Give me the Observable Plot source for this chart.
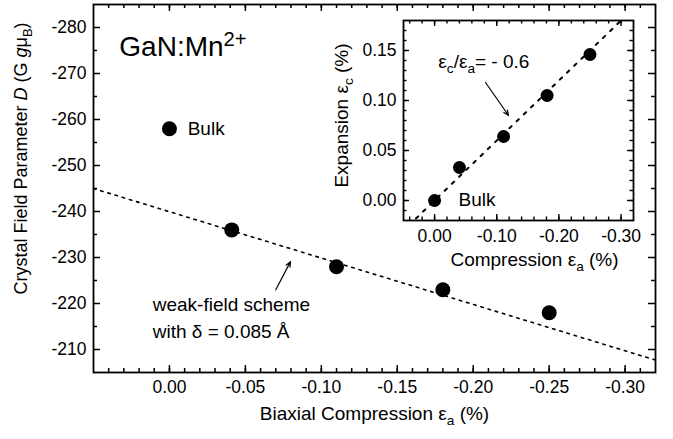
<!DOCTYPE html>
<html><head><meta charset="utf-8">
<script src="https://cdn.jsdelivr.net/npm/d3@7"></script>
<script src="https://cdn.jsdelivr.net/npm/@observablehq/plot@0.6"></script>
<style>
body{margin:0;background:#fff;}
#wrap{position:relative;width:673px;height:439px;background:#fff;}
</style></head><body><div id="wrap"></div>
<script>
const FONT = '"Liberation Sans", Arial, Helvetica, sans-serif';

// ---------- Main panel data ----------
const mainBulkX = [0.0];
const mainBulkY = [-258];
const mainX = [-0.041, -0.110, -0.180, -0.250];
const mainY = [-236, -228, -223, -218];
const mainLineX = [0.05, -0.32];
const mainLineY = [-245.0, -207.7];
const mainXTicks = [0, -0.05, -0.10, -0.15, -0.20, -0.25, -0.30];
const mainXMinor = d3.range(4, -32, -1).map(i => i / 100);
const mainYTicks = [-280, -270, -260, -250, -240, -230, -220, -210];
const mainYMinor = [-275, -265, -255, -245, -235, -225, -215];
const mainArrowX = [-0.070, -0.0797];
const mainArrowY = [-223.0, -229.1];
const mainNotes = ["GaN:Mn2+", "Bulk", "weak-field scheme", "with δ = 0.085 Å"];
const mainNoteX = [0.033, -0.012, 0.011, 0.011];
const mainNoteY = [-275.7, -258, -219.6, -213.9];
const mainNoteSize = [28, 19, 19, 19];
const mainXLabel = "Biaxial Compression εa (%)";
const mainYLabel = "Crystal Field Parameter D (G gμB)";

// ---------- Inset data ----------
const inX = [0.0, -0.040, -0.111, -0.181, -0.250];
const inY = [0.0, 0.033, 0.064, 0.105, 0.146];
const inLineX = [0.03, -0.30];
const inLineY = [-0.018, 0.18];
const inXTicks = [0, -0.10, -0.20, -0.30];
const inXMinor = d3.range(4, -32, -2).map(i => i / 100);
const inYTicks = [0, 0.05, 0.10, 0.15];
const inYMinor = d3.range(-1, 18, 1).map(i => i / 100);
const inArrowX = [-0.082, -0.119];
const inArrowY = [0.118, 0.085];
const inNotes = ["εc/εa= - 0.6", "Bulk"];
const inNoteX = [-0.006, -0.0386];
const inNoteY = [0.139, 0.001];
const inXLabel = "Compression εa (%)";
const inYLabel = "Expansion εc (%)";

function frameTicks(xs, xm, ys, ym, pw, ph, LM, Lm, sw) {
  return [
    Plot.ruleX(xs, {insetTop: ph - LM, strokeWidth: sw}),
    Plot.ruleX(xs, {insetBottom: ph - LM, strokeWidth: sw}),
    Plot.ruleX(xm, {insetTop: ph - Lm, strokeWidth: sw}),
    Plot.ruleX(xm, {insetBottom: ph - Lm, strokeWidth: sw}),
    Plot.ruleY(ys, {insetRight: pw - LM, strokeWidth: sw}),
    Plot.ruleY(ys, {insetLeft: pw - LM, strokeWidth: sw}),
    Plot.ruleY(ym, {insetRight: pw - Lm, strokeWidth: sw}),
    Plot.ruleY(ym, {insetLeft: pw - Lm, strokeWidth: sw})
  ];
}

function rich(svg, plain, parts, fs) {
  d3.select(svg).selectAll("text").filter(function() { return this.textContent === plain; }).each(function() {
    const t = d3.select(this);
    t.text(null);
    let shift = 0;
    for (const [str, kind] of parts) {
      const target = kind === "sub" ? 0.28 * fs : kind === "sup" ? -0.36 * fs : 0;
      const ts = t.append("tspan").text(str).attr("dy", (target - shift) + "px");
      shift = target;
      if (kind === "sub" || kind === "sup") ts.attr("font-size", (0.72 * fs) + "px");
      if (kind === "i") ts.attr("font-style", "italic");
    }
  });
}

// ---------- Main plot ----------
const W = 673, H = 439, mL = 93, mR = 18, mT = 4, mB = 67;
const pw = W - mL - mR, ph = H - mT - mB;
const mainArrow = [{x1: mainArrowX[0], y1: mainArrowY[0], x2: mainArrowX[1], y2: mainArrowY[1]}];
const mainNoteRows = mainNotes.map((t, i) => ({t, x: mainNoteX[i], y: mainNoteY[i], s: mainNoteSize[i]}));

const main = Plot.plot({
  width: W, height: H, marginLeft: mL, marginRight: mR, marginTop: mT, marginBottom: mB,
  style: {fontFamily: FONT, fontSize: "17.5px", background: "transparent", color: "black", overflow: "visible"},
  x: {domain: [0.05, -0.32]},
  y: {domain: [-205, -285]},
  marks: [
    ...frameTicks(mainXTicks, mainXMinor, mainYTicks, mainYMinor, pw, ph, 7, 4, 1.5),
    Plot.frame({strokeWidth: 1.8}),
    Plot.axisX(mainXTicks, {tickSize: 0, tickPadding: 8, tickFormat: d => d.toFixed(2), fontSize: 17.5, label: null}),
    Plot.axisY(mainYTicks, {tickSize: 0, tickPadding: 7, tickFormat: d => String(d), fontSize: 17.5, label: null}),
    Plot.line(mainLineX, {x: mainLineX, y: mainLineY, strokeDasharray: "2.5,5", strokeWidth: 1.6}),
    Plot.dot(mainBulkX, {x: mainBulkX, y: mainBulkY, r: 7.5, fill: "black"}),
    Plot.dot(mainX, {x: mainX, y: mainY, r: 7.5, fill: "black"}),
    Plot.arrow(mainArrow, {x1: "x1", y1: "y1", x2: "x2", y2: "y2", strokeWidth: 1.2, headLength: 7, headAngle: 45}),
    Plot.text(mainNoteRows, {x: "x", y: "y", text: "t", fontSize: "s", textAnchor: "start"}),
    Plot.text([mainXLabel], {text: d => d, frameAnchor: "bottom", textAnchor: "middle", dy: 47.5, fontSize: 19}),
    Plot.text([mainYLabel], {text: d => d, frameAnchor: "left", textAnchor: "middle", rotate: -90, dx: -72, dy: -30, fontSize: 18})
  ]
});
main.style.position = "absolute"; main.style.left = "0px"; main.style.top = "0px";
document.getElementById("wrap").appendChild(main);
rich(main, "GaN:Mn2+", [["GaN:Mn", ""], ["2+", "sup"]], 28);
rich(main, mainXLabel, [["Biaxial Compression ε", ""], ["a", "sub"], [" (%)", ""]], 19);
rich(main, mainYLabel, [["Crystal Field Parameter ", ""], ["D", "i"], [" (G ", ""], ["g", "i"], ["μ", ""], ["B", "sub"], [")", ""]], 18);

// ---------- Inset plot ----------
const IW = 330, IH = 290, iL = 63, iR = 37, iT = 20, iB = 70;
const ipw = IW - iL - iR, iph = IH - iT - iB;
const inArrow = [{x1: inArrowX[0], y1: inArrowY[0], x2: inArrowX[1], y2: inArrowY[1]}];
const inNoteRows = inNotes.map((t, i) => ({t, x: inNoteX[i], y: inNoteY[i]}));

const inset = Plot.plot({
  width: IW, height: IH, marginLeft: iL, marginRight: iR, marginTop: iT, marginBottom: iB,
  style: {fontFamily: FONT, fontSize: "17.5px", background: "transparent", color: "black", overflow: "visible"},
  x: {domain: [0.05, -0.32]},
  y: {domain: [-0.02, 0.18]},
  marks: [
    ...frameTicks(inXTicks, inXMinor, inYTicks, inYMinor, ipw, iph, 6, 3.5, 1.4),
    Plot.frame({strokeWidth: 1.8}),
    Plot.axisX(inXTicks, {tickSize: 0, tickPadding: 9, tickFormat: d => d.toFixed(2), fontSize: 17.5, label: null}),
    Plot.axisY(inYTicks, {tickSize: 0, tickPadding: 7, tickFormat: d => d.toFixed(2), fontSize: 17.5, label: null}),
    Plot.line(inLineX, {x: inLineX, y: inLineY, strokeDasharray: "3,7", strokeWidth: 2}),
    Plot.dot(inX, {x: inX, y: inY, r: 6.5, fill: "black"}),
    Plot.arrow(inArrow, {x1: "x1", y1: "y1", x2: "x2", y2: "y2", strokeWidth: 1.2, headLength: 7, headAngle: 45}),
    Plot.text(inNoteRows, {x: "x", y: "y", text: "t", fontSize: 19, textAnchor: "start"}),
    Plot.text([inXLabel], {text: d => d, frameAnchor: "bottom", textAnchor: "middle", dx: 16, dy: 45, fontSize: 19}),
    Plot.text([inYLabel], {text: d => d, frameAnchor: "left", textAnchor: "middle", rotate: -90, dx: -62, dy: -5, fontSize: 19})
  ]
});
inset.style.position = "absolute"; inset.style.left = "340px"; inset.style.top = "0px";
document.getElementById("wrap").appendChild(inset);
rich(inset, "εc/εa= - 0.6", [["ε", ""], ["c", "sub"], ["/ε", ""], ["a", "sub"], ["= - 0.6", ""]], 19);
rich(inset, inXLabel, [["Compression ε", ""], ["a", "sub"], [" (%)", ""]], 19);
rich(inset, inYLabel, [["Expansion ε", ""], ["c", "sub"], [" (%)", ""]], 19);
</script>
</body></html>
